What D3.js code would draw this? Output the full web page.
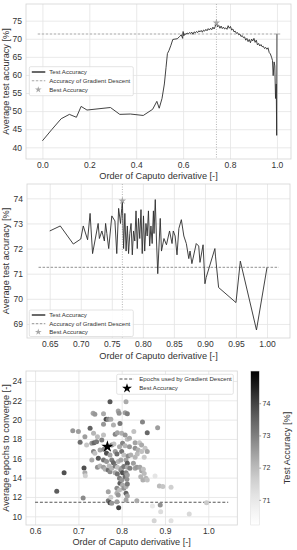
<!DOCTYPE html>
<html>
<head>
<meta charset="utf-8">
<script src="https://cdn.jsdelivr.net/npm/d3@7"></script>
<style>
  body { margin: 0; background: #fff; }
  svg { display: block; font-family: "Liberation Sans", Arial, sans-serif; }
</style>
</head>
<body>
<svg id="chart" width="297" height="550"></svg>
<script>
// ---- panel 1: accuracy over the full order range
const order1 = [0.0, 0.04, 0.08, 0.115, 0.145, 0.165, 0.19, 0.29, 0.33, 0.375, 0.43, 0.47, 0.488, 0.498, 0.51, 0.52, 0.527, 0.533, 0.54, 0.548,
  0.556, 0.565, 0.575, 0.585, 0.592, 0.598, 0.6, 0.603, 0.607, 0.612, 0.617, 0.622, 0.627, 0.632, 0.637, 0.642, 0.647, 0.652, 0.657, 0.662,
  0.667, 0.672, 0.677, 0.682, 0.687, 0.692, 0.697, 0.702, 0.707, 0.712, 0.717, 0.722, 0.727, 0.732, 0.737, 0.742, 0.747, 0.752, 0.757, 0.762,
  0.767, 0.772, 0.777, 0.782, 0.787, 0.792, 0.797, 0.802, 0.807, 0.812, 0.817, 0.822, 0.827, 0.832, 0.837, 0.842, 0.847, 0.852, 0.857, 0.862,
  0.867, 0.872, 0.877, 0.882, 0.887, 0.892, 0.897, 0.902, 0.907, 0.912, 0.917, 0.922, 0.927, 0.932, 0.937, 0.942, 0.947, 0.952, 0.957, 0.962,
  0.967, 0.972, 0.977, 0.981, 0.984, 0.988, 0.991, 0.994, 0.997, 0.999, 1.0];
const acc1 = [41.8, 44.9, 47.9, 49.1, 48.3, 51.3, 50.3, 51.0, 49.1, 49.2, 48.8, 50.5, 52.7, 50.8, 53.5, 57.5, 62.0, 65.9, 66.8, 68.2,
  69.8, 69.9, 70.0, 70.6, 71.1, 70.1, 72.0, 70.8, 71.4, 71.2, 71.6, 71.3, 71.7, 71.5, 71.8, 71.2, 71.9, 71.6, 72.0, 71.7,
  72.2, 71.9, 72.3, 71.8, 72.4, 72.1, 72.6, 72.2, 72.8, 72.4, 72.9, 72.5, 73.2, 72.7, 73.4, 74.4, 73.3, 73.7, 72.9, 73.5,
  72.8, 73.2, 72.7, 73.0, 72.6, 73.6, 72.9, 73.4, 72.4, 72.7, 71.9, 72.1, 71.5, 71.7, 71.1, 71.3, 70.6, 70.9, 70.3, 70.5,
  69.6, 70.1, 69.2, 69.8, 68.9, 69.9, 69.4, 70.1, 69.0, 69.6, 68.3, 68.7, 68.0, 68.4, 67.8, 67.9, 67.3, 67.6, 67.1, 67.5,
  66.2, 65.8, 64.9, 64.0, 59.8, 63.6, 62.5, 53.5, 57.5, 43.3, 71.4];
const gd1 = 71.3;
const best1 = [0.742, 74.4];

// ---- panel 2: zoom on 0.65 - 1.0
const order2 = [0.65, 0.667, 0.688, 0.70, 0.704, 0.711, 0.715, 0.719, 0.728, 0.73, 0.734, 0.738, 0.74, 0.742, 0.745, 0.75, 0.755, 0.758, 0.761, 0.764,
  0.766, 0.767, 0.769, 0.771, 0.773, 0.775, 0.777, 0.779, 0.781, 0.783, 0.785, 0.787, 0.789, 0.791, 0.793, 0.795, 0.797, 0.799, 0.801, 0.803,
  0.805, 0.807, 0.809, 0.811, 0.813, 0.815, 0.817, 0.818, 0.82, 0.822, 0.824, 0.828, 0.83, 0.834, 0.838, 0.843, 0.847, 0.849, 0.852, 0.855,
  0.858, 0.862, 0.866, 0.87, 0.874, 0.876, 0.879, 0.886, 0.89, 0.892, 0.897, 0.90, 0.902, 0.916, 0.917, 0.922, 0.95, 0.957, 0.983, 1.0];
const acc2 = [72.7, 72.9, 72.18, 72.38, 72.9, 72.35, 73.4, 71.8, 73.0, 72.4, 72.7, 72.3, 73.0, 72.6, 72.0, 73.3, 73.1, 71.8, 73.6, 73.0,
  73.6, 73.9, 72.0, 73.4, 71.9, 72.9, 71.8, 72.6, 73.0, 71.75, 72.7, 72.3, 73.5, 72.0, 73.2, 72.4, 73.55, 71.8, 73.3, 71.9,
  73.0, 72.5, 73.5, 72.1, 72.9, 72.2, 73.5, 72.6, 73.95, 72.3, 71.0, 73.2, 71.9, 72.4, 72.15, 72.7, 72.2, 72.7, 72.5, 71.75,
  72.8, 73.15, 72.5, 72.2, 71.6, 71.9, 71.4, 72.2, 72.1, 71.45, 72.15, 70.6, 70.85, 72.0, 71.7, 70.45, 69.85, 71.5, 68.76, 71.25];
const gd2 = 71.25;
const best2 = [0.767, 73.9];

// ---- panel 3: epochs to converge, coloured by test accuracy
const orderEp = [0.65, 0.667, 0.687, 0.70, 0.704, 0.711, 0.713, 0.715, 0.716, 0.719, 0.715, 0.727, 0.731, 0.731, 0.734, 0.735, 0.735, 0.736, 0.738, 0.738,
  0.742, 0.744, 0.744, 0.746, 0.75, 0.75, 0.754, 0.758, 0.758, 0.758, 0.758, 0.758, 0.759, 0.762, 0.764, 0.765, 0.765, 0.769, 0.769, 0.769,
  0.769, 0.771, 0.773, 0.773, 0.773, 0.773, 0.775, 0.775, 0.777, 0.777, 0.777, 0.777, 0.781, 0.781, 0.782, 0.785, 0.785, 0.785, 0.785, 0.789,
  0.789, 0.789, 0.789, 0.79, 0.79, 0.79, 0.792, 0.792, 0.792, 0.793, 0.794, 0.795, 0.795, 0.795, 0.796, 0.796, 0.798, 0.798, 0.80, 0.80,
  0.80, 0.80, 0.802, 0.802, 0.802, 0.805, 0.805, 0.805, 0.808, 0.808, 0.808, 0.808, 0.81, 0.81, 0.81, 0.81, 0.81, 0.81, 0.812, 0.813,
  0.813, 0.813, 0.813, 0.813, 0.813, 0.813, 0.815, 0.818, 0.818, 0.819, 0.821, 0.827, 0.828, 0.831, 0.831, 0.831, 0.831, 0.835, 0.835, 0.836,
  0.838, 0.841, 0.842, 0.844, 0.846, 0.846, 0.846, 0.848, 0.849, 0.85, 0.852, 0.852, 0.854, 0.856, 0.859, 0.859, 0.859, 0.871, 0.875, 0.877,
  0.883, 0.887, 0.889, 0.89, 0.895, 0.914, 0.914, 0.956, 0.996];
const epochs = [12.6, 14.5, 18.86, 18.76, 17.66, 11.9, 15.0, 14.5, 14.2, 17.38, 18.24, 19.1, 17.55, 15.83, 20.66, 18.6, 16.7, 17.6, 20.55, 16.52,
  17.72, 18.24, 15.07, 16.0, 16.86, 15.2, 17.9, 20.6, 19.52, 18.41, 15.83, 15.07, 16.93, 14.86, 20.03, 16.52, 15.66, 20.03, 14.79, 12.55,
  11.62, 15.2, 21.86, 16.34, 14.62, 11.41, 20.03, 11.97, 17.38, 15.83, 14.96, 11.34, 19.45, 15.55, 17.48, 18.5, 16.7, 15.2, 14.51, 16.45,
  12.9, 12.38, 11.51, 18.65, 15.07, 14.38, 20.9, 15.66, 12.2, 10.89, 20.66, 17.2, 13.93, 12.72, 19.6, 13.41, 15.83, 14.79, 18.58, 16.7,
  14.96, 13.76, 17.55, 14.51, 13.24, 16.34, 15.14, 12.9, 20.7, 18.41, 17.3, 14.1, 21.86, 15.83, 14.51, 13.07, 12.38, 11.69, 13.83, 20.6,
  17.97, 15.48, 15.07, 14.27, 13.34, 12.1, 16.24, 18.07, 17.2, 14.96, 16.34, 15.48, 18.76, 17.6, 17.03, 16.1, 14.96, 15.07, 11.62, 16.45,
  16.86, 17.6, 15.07, 14.1, 17.38, 16.7, 14.72, 19.76, 13.76, 14.86, 16.1, 14.44, 17.03, 13.93, 18.65, 16.7, 13.76, 11.07, 9.54, 14.17,
  19.17, 13.14, 11.17, 10.48, 13.07, 13.0, 9.54, 10.24, 11.4];
const accEp = [73.6, 73.8, 72.6, 72.5, 73.3, 72.8, 73.8, 72.3, 71.6, 71.8, 72.5, 73.5, 72.6, 72.3, 72.4, 72.1, 72.9, 73.4, 72.6, 71.9,
  73.1, 72.0, 72.7, 73.7, 72.4, 72.1, 73.0, 72.3, 72.6, 71.9, 73.2, 72.5, 72.8, 72.2, 73.9, 73.8, 72.6, 72.9, 73.3, 72.4,
  73.1, 72.0, 73.7, 72.4, 72.8, 73.9, 72.3, 71.7, 72.7, 73.0, 72.1, 72.6, 72.2, 73.4, 71.9, 72.9, 72.5, 73.1, 72.3, 73.3,
  72.8, 72.2, 72.5, 72.4, 71.9, 73.2, 72.4, 72.1, 72.6, 74.0, 72.7, 72.3, 73.0, 72.0, 73.1, 73.6, 72.4, 72.8, 72.2, 73.2,
  72.5, 72.6, 72.9, 73.8, 72.3, 71.9, 73.1, 72.7, 72.5, 72.6, 72.1, 73.3, 72.3, 72.4, 72.9, 72.2, 73.5, 72.4, 72.7, 73.0,
  72.0, 73.6, 72.3, 72.5, 73.1, 72.4, 72.8, 72.3, 72.6, 73.0, 72.2, 72.5, 71.9, 72.4, 72.7, 72.1, 72.4, 72.6, 72.3, 72.0,
  72.2, 71.8, 72.4, 72.1, 72.3, 71.9, 72.4, 72.9, 72.2, 71.9, 71.7, 72.0, 71.8, 72.1, 73.4, 72.4, 71.9, 71.0, 71.5, 71.1,
  72.5, 72.0, 72.7, 71.3, 71.8, 71.6, 71.2, 71.4, 71.7];
const gdEpochs = 11.45;
const bestEp = [0.767, 17.2];
const cbTicks = [71, 72, 73, 74];

const svg = d3.select("#chart");
const txt = "#333";

// draws grid, frame and tick labels of one panel
function frame(box, x, y, xTicks, yTicks, xFmt) {
  const g = svg.append("g");
  g.append("g")
    .attr("transform", `translate(0,${box.b})`)
    .call(d3.axisBottom(x).tickValues(xTicks).tickFormat(d3.format(xFmt)).tickSize(-(box.b - box.t)).tickPadding(3))
    .call(a => a.select(".domain").remove());
  g.append("g")
    .attr("transform", `translate(${box.l},0)`)
    .call(d3.axisLeft(y).tickValues(yTicks).tickFormat(d3.format("d")).tickSize(-(box.r - box.l)).tickPadding(4))
    .call(a => a.select(".domain").remove());
  g.selectAll(".tick line").attr("stroke", "#e3e3e3").attr("stroke-width", 0.8);
  g.selectAll(".tick text").attr("fill", txt).style("font-size", "8.5px").style("font-family", "Liberation Sans, Arial, sans-serif");
  g.append("rect")
    .attr("x", box.l).attr("y", box.t)
    .attr("width", box.r - box.l).attr("height", box.b - box.t)
    .attr("fill", "none").attr("stroke", "#d4d4d4").attr("stroke-width", 0.8);
  return g;
}

function axisLabels(box, xText, yText, gap) {
  svg.append("text")
    .attr("x", (box.l + box.r) / 2).attr("y", box.b + gap)
    .attr("text-anchor", "middle").attr("fill", txt).style("font-size", "9.2px")
    .text(xText);
  svg.append("text")
    .attr("transform", `translate(9,${(box.t + box.b) / 2}) rotate(-90)`)
    .attr("text-anchor", "middle").attr("fill", txt).style("font-size", "9.2px")
    .text(yText);
}

function legend(x0, y0, w, h, entries) {
  const g = svg.append("g");
  g.append("rect").attr("x", x0).attr("y", y0).attr("width", w).attr("height", h)
    .attr("rx", 1.5).attr("fill", "#fff").attr("fill-opacity", 0.85)
    .attr("stroke", "#dcdcdc").attr("stroke-width", 0.8);
  entries.forEach(e => {
    const cy = y0 + e.dy;
    if (e.kind === "line") {
      g.append("line").attr("x1", x0 + 2.5).attr("x2", x0 + 16).attr("y1", cy).attr("y2", cy)
        .attr("stroke", e.color).attr("stroke-width", e.width).attr("stroke-dasharray", e.dash || null);
    } else {
      g.append("path").attr("d", d3.symbol(d3.symbolStar, e.size)())
        .attr("transform", `translate(${x0 + 9},${cy})`).attr("fill", e.color);
    }
    g.append("text").attr("x", x0 + 20).attr("y", cy + 2.1)
      .attr("fill", txt).style("font-size", "6.1px").text(e.label);
  });
}

// ---------------- panel 1
const b1 = {l: 26, r: 291, t: 4, b: 159};
const x1 = d3.scaleLinear().domain([-0.07, 1.06]).range([b1.l, b1.r]);
const y1 = d3.scaleLinear().domain([36.77, 79.6]).range([b1.b, b1.t]);
frame(b1, x1, y1, [0, 0.2, 0.4, 0.6, 0.8, 1.0], [40, 45, 50, 55, 60, 65, 70, 75], ".1f");

svg.append("line").attr("x1", x1(best1[0])).attr("x2", x1(best1[0])).attr("y1", b1.t).attr("y2", b1.b)
  .attr("stroke", "#b5b5b5").attr("stroke-width", 1).attr("stroke-dasharray", "1,1.5");
svg.append("line").attr("x1", x1(-0.02)).attr("x2", x1(1.02)).attr("y1", y1(gd1)).attr("y2", y1(gd1))
  .attr("stroke", "#a8a8a8").attr("stroke-width", 1.1).attr("stroke-dasharray", "2.5,1.5");
svg.append("path")
  .datum(d3.zip(order1, acc1))
  .attr("d", d3.line().x(d => x1(d[0])).y(d => y1(d[1])))
  .attr("fill", "none").attr("stroke", "#2e2e2e").attr("stroke-width", 0.9);
svg.append("path").attr("d", d3.symbol(d3.symbolStar, 18)())
  .attr("transform", `translate(${x1(best1[0])},${y1(best1[1])})`).attr("fill", "#a8a8a8");
legend(29.3, 66.7, 104, 29, [
  {kind: "line", label: "Test Accuracy", color: "#444", width: 1.6, dy: 5.3},
  {kind: "line", label: "Accuracy of Gradient Descent", color: "#a8a8a8", width: 1.1, dash: "2.5,1.5", dy: 14},
  {kind: "star", label: "Best Accuracy", color: "#a8a8a8", size: 14, dy: 23}
]);
axisLabels(b1, "Order of Caputo derivative [-]", "Average test accuracy [%]", 20);

// ---------------- panel 2
const b2 = {l: 27, r: 290, t: 184, b: 338};
const x2 = d3.scaleLinear().domain([0.6134, 1.037]).range([b2.l, b2.r]);
const y2 = d3.scaleLinear().domain([68.44, 74.57]).range([b2.b, b2.t]);
frame(b2, x2, y2, [0.65, 0.70, 0.75, 0.80, 0.85, 0.90, 0.95, 1.00], [69, 70, 71, 72, 73, 74], ".2f");

svg.append("line").attr("x1", x2(best2[0])).attr("x2", x2(best2[0])).attr("y1", b2.t).attr("y2", b2.b)
  .attr("stroke", "#b5b5b5").attr("stroke-width", 1).attr("stroke-dasharray", "1,1.5");
svg.append("line").attr("x1", x2(0.632)).attr("x2", x2(1.019)).attr("y1", y2(gd2)).attr("y2", y2(gd2))
  .attr("stroke", "#a8a8a8").attr("stroke-width", 1.1).attr("stroke-dasharray", "2.5,1.5");
svg.append("path")
  .datum(d3.zip(order2, acc2))
  .attr("d", d3.line().x(d => x2(d[0])).y(d => y2(d[1])))
  .attr("fill", "none").attr("stroke", "#2e2e2e").attr("stroke-width", 0.9);
svg.append("path").attr("d", d3.symbol(d3.symbolStar, 18)())
  .attr("transform", `translate(${x2(best2[0])},${y2(best2[1])})`).attr("fill", "#a8a8a8");
legend(29.3, 310, 104, 26.5, [
  {kind: "line", label: "Test Accuracy", color: "#444", width: 1.6, dy: 5},
  {kind: "line", label: "Accuracy of Gradient Descent", color: "#a8a8a8", width: 1.1, dash: "2.5,1.5", dy: 13.6},
  {kind: "star", label: "Best Accuracy", color: "#a8a8a8", size: 14, dy: 22}
]);
axisLabels(b2, "Order of Caputo derivative [-]", "Average test accuracy [%]", 21);

// ---------------- panel 3
const b3 = {l: 26, r: 237.3, t: 371, b: 525};
const x3 = d3.scaleLinear().domain([0.579, 1.067]).range([b3.l, b3.r]);
const y3 = d3.scaleLinear().domain([9.1, 25.03]).range([b3.b, b3.t]);
frame(b3, x3, y3, [0.6, 0.7, 0.8, 0.9, 1.0], [10, 12, 14, 16, 18, 20, 22, 24], ".1f");

const colorScale = d3.scaleSequential(d3.interpolateGreys).domain([70.22, 75.0]);

svg.append("line").attr("x1", x3(0.6)).attr("x2", x3(1.046)).attr("y1", y3(gdEpochs)).attr("y2", y3(gdEpochs))
  .attr("stroke", "#555").attr("stroke-width", 1.1).attr("stroke-dasharray", "3,1.8");
svg.append("g").selectAll("circle")
  .data(d3.range(orderEp.length))
  .enter()
  .append("circle")
  .attr("cx", i => x3(orderEp[i]))
  .attr("cy", i => y3(epochs[i]))
  .attr("r", 2.5)
  .style("fill", i => colorScale(accEp[i]));
svg.append("path").attr("d", d3.symbol(d3.symbolStar, 45)())
  .attr("transform", `translate(${x3(bestEp[0])},${y3(bestEp[1])})`).attr("fill", "#000");

// legend of panel 3
const lg3 = svg.append("g");
lg3.append("rect").attr("x", 116.7).attr("y", 374.3).attr("width", 116.6).attr("height", 20)
  .attr("rx", 1.5).attr("fill", "#fff").attr("stroke", "#dcdcdc").attr("stroke-width", 0.8);
lg3.append("line").attr("x1", 119.5).attr("x2", 134).attr("y1", 379).attr("y2", 379)
  .attr("stroke", "#555").attr("stroke-width", 1.1).attr("stroke-dasharray", "3,1.8");
lg3.append("path").attr("d", d3.symbol(d3.symbolStar, 30)()).attr("transform", "translate(127,388.3)").attr("fill", "#000");
lg3.append("text").attr("x", 139.3).attr("y", 381.1).attr("fill", txt).style("font-size", "6.1px").text("Epochs used by Gradient Descent");
lg3.append("text").attr("x", 139.3).attr("y", 390.4).attr("fill", txt).style("font-size", "6.1px").text("Best Accuracy");

axisLabels(b3, "Order of Caputo derivative [-]", "Average epochs to converge [-]", 20);

// colorbar
const cbY = d3.scaleLinear().domain([70.22, 75.0]).range([b3.b, b3.t]);
const grad = svg.append("defs").append("linearGradient").attr("id", "cbGrad")
  .attr("x1", 0).attr("x2", 0).attr("y1", 1).attr("y2", 0);
d3.range(0, 1.01, 0.1).forEach(t => {
  grad.append("stop").attr("offset", t).attr("stop-color", colorScale(70.22 + t * (75.0 - 70.22)));
});
svg.append("rect").attr("x", 250.7).attr("y", b3.t).attr("width", 8.6).attr("height", b3.b - b3.t)
  .attr("fill", "url(#cbGrad)").attr("stroke", "#e0e0e0").attr("stroke-width", 0.6);
const cbAxis = svg.append("g")
  .attr("transform", "translate(259.3,0)")
  .call(d3.axisRight(cbY).tickValues(cbTicks).tickSize(1.8).tickPadding(1.5).tickFormat(d3.format("d")));
cbAxis.select(".domain").remove();
cbAxis.selectAll(".tick line").attr("stroke", "#666").attr("stroke-width", 0.6);
cbAxis.selectAll(".tick text").attr("fill", txt).style("font-size", "7px").style("font-family", "Liberation Sans, Arial, sans-serif");
svg.append("text")
  .attr("transform", `translate(290,${(b3.t + b3.b) / 2}) rotate(-90)`)
  .attr("text-anchor", "middle").attr("fill", txt).style("font-size", "9.2px")
  .text("Test Accuracy [%]");
</script>
</body>
</html>
